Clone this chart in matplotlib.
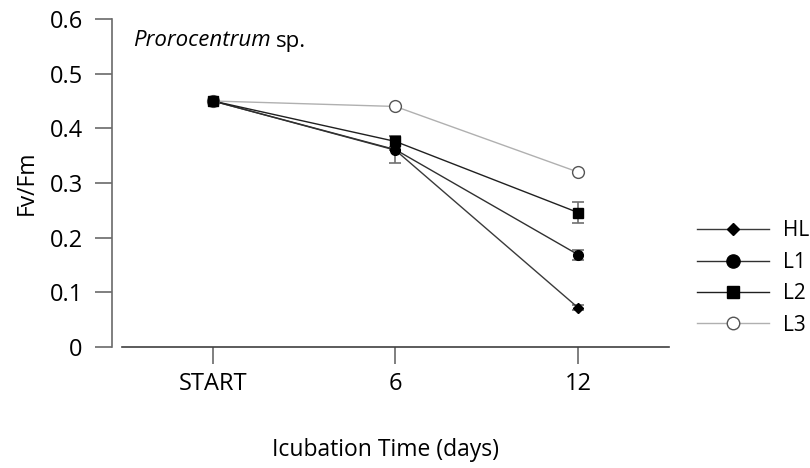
import matplotlib
matplotlib.use("Agg")
import matplotlib.pyplot as plt
from matplotlib.lines import Line2D

plt.rcParams['font.family'] = ['Open Sans', 'DejaVu Sans']

categories = ["START", "6", "12"]
series = ["HL", "L1", "L2", "L3"]
hl = [0.45, 0.36, 0.072]
l1 = [0.45, 0.361, 0.169]
l2 = [0.45, 0.376, 0.246]
l3 = [0.45, 0.440, 0.320]
hl_err = [0.0, 0.0, 0.004]
l1_err = [0.0, 0.025, 0.009]
l2_err = [0.0, 0.010, 0.019]
l3_err = [0.0, 0.0, 0.0]
yticks = [0, 0.1, 0.2, 0.3, 0.4, 0.5, 0.6]
ytick_labels = ["0", "0.1", "0.2", "0.3", "0.4", "0.5", "0.6"]

W, H = 810, 468
fig = plt.figure(figsize=(W / 100, H / 100), dpi=100)
ax = fig.add_axes([112 / W, (H - 347) / H, (670 - 112) / W, (347 - 19) / H])

x = list(range(len(categories)))
# (values, errors, marker, face, line colour, plot marker size, legend marker size, marker z)
styles = [
    (hl, hl_err, "D", "black", "#3a3a3a", 5.5, 6.5, 6),
    (l1, l1_err, "o", "black", "#303030", 7, 9.5, 7),
    (l2, l2_err, "s", "black", "#202020", 6.5, 9, 5),
    (l3, l3_err, "o", "white", "#b0b0b0", 8.5, 9, 4),
]
handles = []
for (vals, errs, mk, fc, lc, ms, lms, mz), name in zip(styles, series):
    ec = "#555555" if fc == "white" else "black"
    ax.errorbar(x, vals, yerr=errs, fmt="none", ecolor="#707070", elinewidth=1.2,
                capsize=4, capthick=1.2, zorder=2, clip_on=False)
    ax.plot(x, vals, color=lc, lw=1.0, zorder=3, clip_on=False)
    ax.plot(x, vals, ls="none", marker=mk, ms=ms, mfc=fc, mec=ec, mew=1.0,
            zorder=mz, clip_on=False)
    handles.append(Line2D([0], [0], color=lc, lw=1.0, marker=mk, ms=lms, mfc=fc,
                          mec=ec, mew=1.0))

ax.set_xlim(-0.553, 2.504)
ax.set_ylim(0, 0.6)
ax.set_xticks(x)
ax.set_xticklabels(categories)
ax.set_yticks(yticks)
ax.set_yticklabels(ytick_labels)

for s in ["top", "right"]:
    ax.spines[s].set_visible(False)
ax.spines["left"].set_color("#6a6a6a")
ax.spines["bottom"].set_color("#404040")
ax.spines["left"].set_linewidth(1.2)
ax.spines["bottom"].set_linewidth(1.2)
ax.spines["bottom"].set_bounds(-0.5, 2.5)
ax.tick_params(axis="y", length=12, width=1.2, color="#6a6a6a", labelsize=17, pad=9)
ax.tick_params(axis="x", length=12, width=1.2, color="#6a6a6a", labelsize=17, pad=6)

t1 = fig.text(133 / W, (H - 41) / H, "Prorocentrum", fontsize=16, style="italic",
              va="center", ha="left")
fig.canvas.draw()
bb = t1.get_window_extent(renderer=fig.canvas.get_renderer())
fig.text((bb.x1 + 5) / W, (H - 41) / H, "sp.", fontsize=16, va="center", ha="left")

fig.text(27 / W, (H - 183) / H, "Fv/Fm", fontsize=16.5, rotation=90, va="center", ha="center")
fig.text(386 / W, (H - 450) / H, "Icubation Time (days)", fontsize=16.5, va="center", ha="center")

fig.legend(handles, series, loc="center left", bbox_to_anchor=(697 / W, (H - 278) / H),
           frameon=False, fontsize=15, handlelength=3.45, numpoints=1,
           labelspacing=0.5, handletextpad=0.67, borderpad=0, borderaxespad=0)

fig.savefig("out.png", dpi=100)
